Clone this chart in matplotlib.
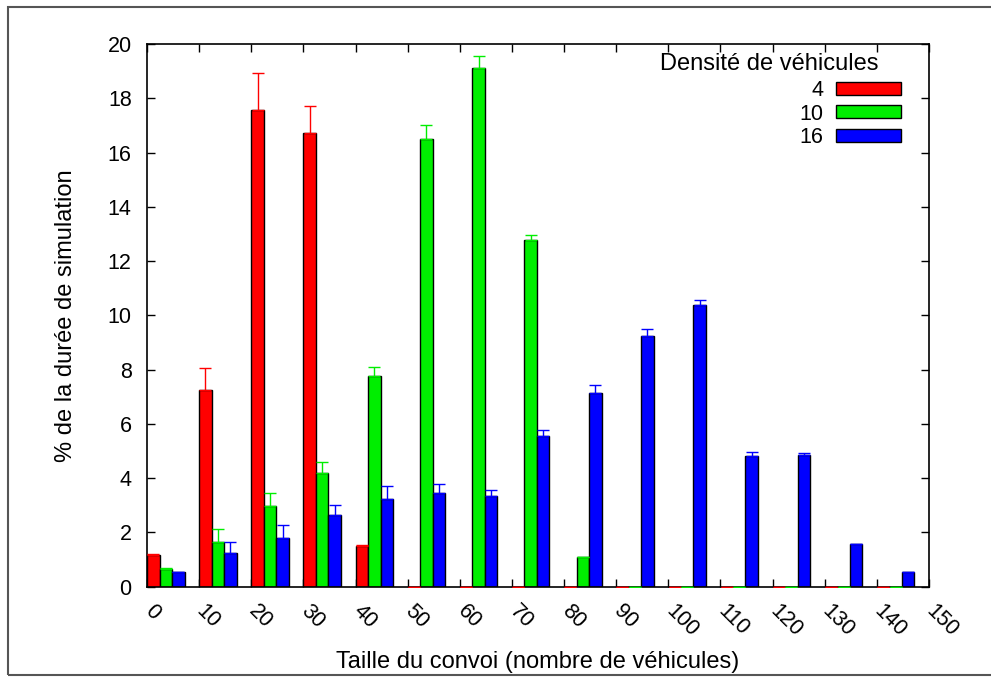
import numpy as np
import matplotlib
matplotlib.use('Agg')
from matplotlib import pyplot as plt
from matplotlib.patches import Rectangle
from matplotlib.transforms import ScaledTranslation

plt.rcParams['font.family'] = ['Liberation Sans', 'DejaVu Sans']
plt.rcParams['font.size'] = 15.5

# taille du convoi (debut de chaque groupe)
taille = [0, 10, 20, 30, 40, 50, 60, 70, 80, 90, 100, 110, 120, 130, 140]

# densite 4
d4 = [1.17, 7.25, 17.56, 16.73, 1.50, 0, 0, 0, 0, 0, 0, 0, 0, 0, 0]
d4_err = [0.03, 0.82, 1.38, 0.99, 0.04, 0, 0, 0, 0, 0, 0, 0, 0, 0, 0]
# densite 10
d10 = [0.65, 1.66, 2.99, 4.20, 7.77, 16.51, 19.12, 12.78, 1.08, 0, 0, 0, 0, 0, 0]
d10_err = [0.03, 0.46, 0.48, 0.41, 0.31, 0.52, 0.44, 0.18, 0.03, 0, 0, 0, 0, 0, 0]
# densite 16
d16 = [0.54, 1.25, 1.78, 2.63, 3.22, 3.44, 3.33, 5.55, 7.14, 9.23, 10.38, 4.82, 4.85, 1.57, 0.53]
d16_err = [0.02, 0.41, 0.48, 0.38, 0.49, 0.33, 0.22, 0.23, 0.28, 0.27, 0.17, 0.13, 0.08, 0.02, 0.0]

densites = ['4', '10', '16']
couleurs = ['#ff0000', '#00ee00', '#0000ff']

fig = plt.figure(figsize=(9.91, 6.77), dpi=100)
ax = fig.add_axes([147 / 991, 1 - 586.7 / 677, (929 - 147) / 991, (586.7 - 44) / 677])

largeur = 2.4
x = np.array(taille, dtype=float)
series = [(d4, d4_err), (d10, d10_err), (d16, d16_err)]
for i, (vals, errs) in enumerate(series):
    pos = x + i * largeur
    vals = np.array(vals)
    errs = np.array(errs)
    ax.bar(pos, vals, width=largeur, align='edge', color=couleurs[i],
           edgecolor='black', linewidth=1.0, label=densites[i], zorder=2)
    ax.errorbar(pos + largeur / 2, vals, yerr=[np.zeros_like(errs), errs],
                fmt='none', ecolor=couleurs[i], elinewidth=1.0, capsize=4,
                capthick=1.0, zorder=3)

ax.set_xlim(0, 150)
ax.set_ylim(0, 20)
ax.set_xticks(range(0, 151, 10))
ax.set_yticks(range(0, 21, 2))
ax.tick_params(axis='both', direction='in', length=5.5, width=1.0,
               top=True, right=True)
ax.tick_params(axis='y', pad=11)
ax.tick_params(axis='x', pad=8)
ax.set_xticklabels([str(t) for t in range(0, 151, 10)], rotation=-45,
                   ha='left', va='top', rotation_mode='anchor')
# decaler les etiquettes comme dans gnuplot (apres tick_params)
decal = ScaledTranslation(8 / 100, -3 / 100, fig.dpi_scale_trans)
for lab in ax.get_xticklabels():
    lab.set_transform(lab.get_transform() + decal)
for s in ax.spines.values():
    s.set_linewidth(1.2)

ax.set_xlabel('Taille du convoi (nombre de véhicules)', fontsize=17)
ax.set_ylabel('% de la durée de simulation', fontsize=17)
ax.xaxis.set_label_coords(0.5, -0.118)
ax.yaxis.set_label_coords(-0.090, 0.5)

leg = ax.legend(loc='upper right', bbox_to_anchor=(0.964, 0.933), frameon=False,
                markerfirst=False, handlelength=3.0, handleheight=0.55,
                handletextpad=0.6, labelspacing=0.1, borderpad=0,
                borderaxespad=0)
ax.text(0.935, 0.963, 'Densité de véhicules', transform=ax.transAxes,
        ha='right', va='center', fontsize=17)

fig.add_artist(Rectangle((8 / 991, 1 - 675 / 677), 1.0, (675 - 7) / 677,
                         transform=fig.transFigure, fill=False,
                         edgecolor='#555555', linewidth=1.5))

plt.savefig('out.png', dpi=100)
